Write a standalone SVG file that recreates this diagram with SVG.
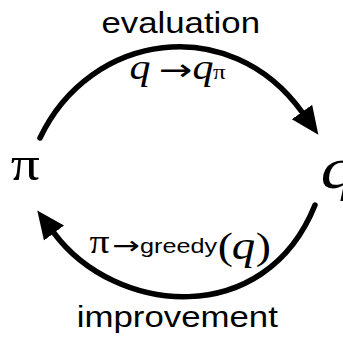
<svg xmlns="http://www.w3.org/2000/svg" width="343" height="337" viewBox="0 0 343 337">
  <style>
    .sans { font-family: "Liberation Sans", Arial, sans-serif; fill: #000; }
    .serif { font-family: "Liberation Serif", "Times New Roman", serif; fill: #000; }
    .arrow { font-family: "DejaVu Sans", sans-serif; fill: #000; }
    .it { font-style: italic; }
    .edge { fill: none; stroke: #000; stroke-width: 5.5; stroke-linecap: round; }
  </style>
  <defs>
    <marker id="head" markerUnits="userSpaceOnUse" markerWidth="30" markerHeight="28" refX="0" refY="13" orient="auto" viewBox="0 0 30 26">
      <path d="M0,0.5 L28,13 L0,25.5 z" fill="#000"/>
    </marker>
  </defs>
  <rect width="343" height="337" fill="#fff"/>
  <g id="connectors">
    <path id="evaluation-edge" class="edge" d="M40,138 C90,32 230,12 302,112" marker-end="url(#head)"/>
    <path id="improvement-edge" class="edge" d="M315,205 C265,330 115,315 54,233" marker-end="url(#head)"/>
  </g>
  <g transform="scale(1.2,1)">
    <g id="node-pi">
      <text class="serif" x="9" y="180" font-size="48">π</text>
    </g>
    <g id="node-q">
      <text class="serif it" x="267" y="188" font-size="60">q</text>
    </g>
    <g id="label-evaluation">
      <text class="sans" x="84.5" y="33" font-size="29">evaluation</text>
      <text class="serif it" x="108" y="79" font-size="35">q</text>
      <text class="arrow" x="132" y="80" font-size="30" textLength="28" lengthAdjust="spacingAndGlyphs">→</text>
      <text class="serif it" x="160.5" y="79" font-size="35">q</text>
      <text class="serif" x="177.5" y="79" font-size="21">π</text>
    </g>
    <g id="label-improvement">
      <text class="serif" x="74.5" y="253" font-size="33">π</text>
      <text class="arrow" x="93.3" y="254" font-size="25" textLength="23" lengthAdjust="spacingAndGlyphs">→</text>
      <text class="sans" x="116.7" y="253" font-size="21">greedy</text>
      <text class="serif" x="181.5" y="259" font-size="38">(<tspan class="it" font-size="39" dx="-1">q</tspan><tspan dx="0.5">)</tspan></text>
      <text class="sans" x="64" y="327" font-size="29">improvement</text>
    </g>
  </g>
</svg>
